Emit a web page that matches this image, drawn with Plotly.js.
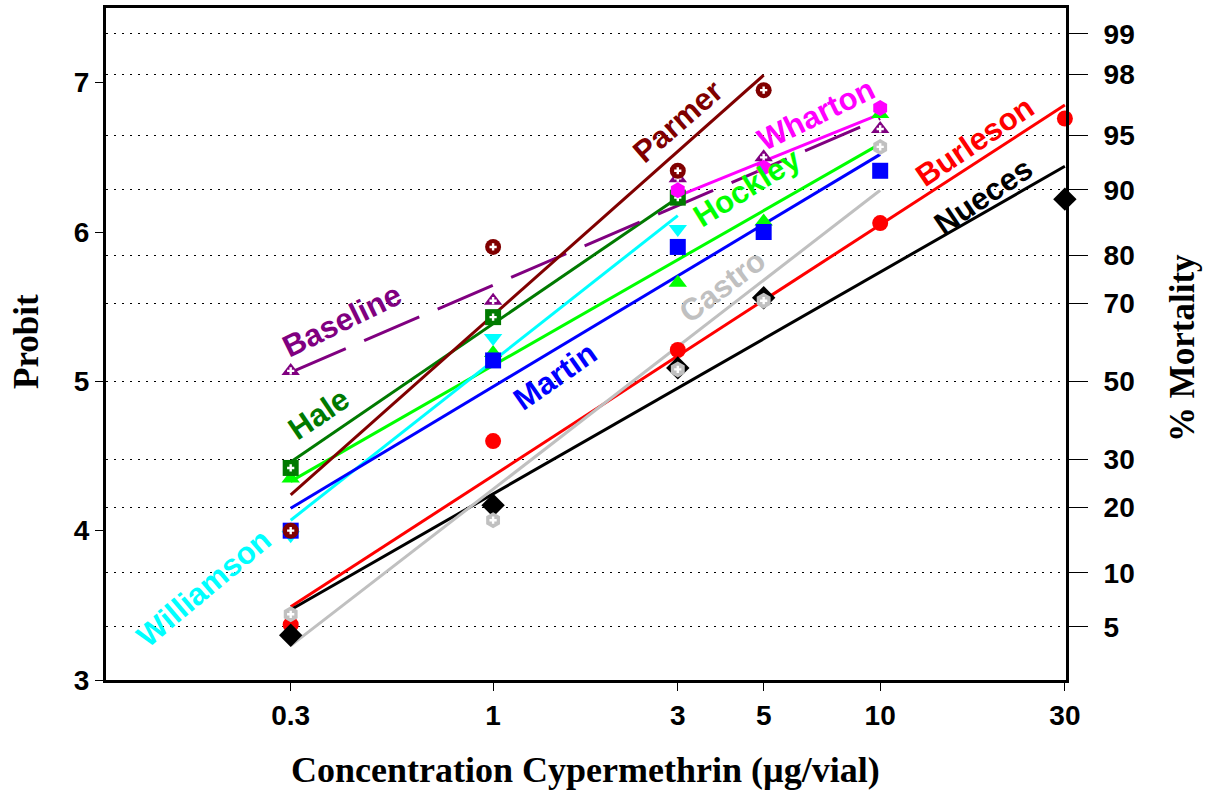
<!DOCTYPE html>
<html>
<head>
<meta charset="utf-8">
<script src="https://cdn.plot.ly/plotly-3.0.1.min.js"></script>
<style>html,body{margin:0;padding:0;background:#fff;}#chart{width:1207px;height:792px;}</style>
</head>
<body>
<div id="chart"></div>
<script>
// ---- Data (probit values) ----
const parmerDose = [0.3, 1, 3, 5];
const parmerObs = [4.00, 5.90, 6.41, 6.95];
const parmerFitDose = [0.3, 5];
const parmerFit = [4.24, 7.05];

const baselineDose = [0.3, 1, 3, 5, 10];
const baselineObs = [5.07, 5.54, 6.36, 6.50, 6.69];
const baselineFitDose = [0.3, 10];
const baselineFit = [5.06, 6.76];

const haleDose = [0.3, 1, 3];
const haleObs = [4.42, 5.43, 6.23];
const haleFitDose = [0.3, 3];
const haleFit = [4.46, 6.23];

const hockleyDose = [0.3, 1, 3, 5, 10];
const hockleyObs = [4.35, 5.19, 5.66, 6.07, 6.79];
const hockleyFitDose = [0.3, 10];
const hockleyFit = [4.33, 6.59];

const martinDose = [0.3, 1, 3, 5, 10];
const martinObs = [4.00, 5.14, 5.90, 6.00, 6.41];
const martinFitDose = [0.3, 10];
const martinFit = [4.15, 6.52];

const williamsonDose = [0.3, 1, 3];
const williamsonObs = [3.97, 5.29, 6.02];
const williamsonFitDose = [0.3, 3];
const williamsonFit = [4.07, 6.11];

const whartonDose = [3, 5, 10];
const whartonObs = [6.28, 6.43, 6.83];
const whartonFitDose = [3, 10];
const whartonFit = [6.24, 6.79];

const castroDose = [0.3, 1, 3, 5, 10];
const castroObs = [3.44, 4.07, 5.08, 5.54, 6.57];
const castroFitDose = [0.3, 10];
const castroFit = [3.23, 6.28];

const burlesonDose = [0.3, 1, 3, 10, 30];
const burlesonObs = [3.37, 4.60, 5.21, 6.06, 6.76];
const burlesonFitDose = [0.3, 30];
const burlesonFit = [3.49, 6.85];

const nuecesDose = [0.3, 1, 3, 5, 30];
const nuecesObs = [3.30, 4.17, 5.09, 5.56, 6.22];
const nuecesFitDose = [0.3, 30];
const nuecesFit = [3.47, 6.44];

// axis ticks
const doseTicks = [0.3, 1, 3, 5, 10, 30];
const doseTickText = ['0.3', '1', '3', '5', '10', '30'];
const probitTicks = [3, 4, 5, 6, 7];
const mortalityLabels = ['5', '10', '20', '30', '50', '70', '80', '90', '95', '98', '99'];
const mortalityProbit = [3.355, 3.718, 4.158, 4.476, 5.0, 5.524, 5.842, 6.282, 6.645, 7.054, 7.326];

// ---- Styles ----
const series = [
  {name:'Hockley', dose:hockleyDose, obs:hockleyObs, fx:hockleyFitDose, fy:hockleyFit, color:'#00FF00', symbol:'triangle-up', plus:false},
  {name:'Williamson', dose:williamsonDose, obs:williamsonObs, fx:williamsonFitDose, fy:williamsonFit, color:'#00FFFF', symbol:'triangle-down', plus:false},
  {name:'Martin', dose:martinDose, obs:martinObs, fx:martinFitDose, fy:martinFit, color:'#0000FF', symbol:'square', plus:false},
  {name:'Hale', dose:haleDose, obs:haleObs, fx:haleFitDose, fy:haleFit, color:'#007A00', symbol:'square', plus:true},
  {name:'Baseline', dose:baselineDose, obs:baselineObs, fx:baselineFitDose, fy:baselineFit, color:'#800080', symbol:'triangle-up', plus:true, dash:'60px,20px'},
  {name:'Wharton', dose:whartonDose, obs:whartonObs, fx:whartonFitDose, fy:whartonFit, color:'#FF00FF', symbol:'hexagon', plus:false},
  {name:'Parmer', dose:parmerDose, obs:parmerObs, fx:parmerFitDose, fy:parmerFit, color:'#800000', symbol:'circle', plus:true},
  {name:'Burleson', dose:burlesonDose, obs:burlesonObs, fx:burlesonFitDose, fy:burlesonFit, color:'#FF0000', symbol:'circle', plus:false},
  {name:'Nueces', dose:nuecesDose, obs:nuecesObs, fx:nuecesFitDose, fy:nuecesFit, color:'#000000', symbol:'diamond', plus:false},
  {name:'Castro', dose:castroDose, obs:castroObs, fx:castroFitDose, fy:castroFit, color:'#C0C0C0', symbol:'hexagon', plus:true}
];

const traces = [];
// invisible trace to activate right axis
traces.push({x:[1], y:[5], yaxis:'y2', mode:'markers', marker:{opacity:0}, hoverinfo:'skip', showlegend:false});
series.forEach(s => {
  traces.push({x:s.fx, y:s.fy, mode:'lines', line:{color:s.color, width:3, dash:s.dash||'solid'}, showlegend:false, hoverinfo:'skip'});
});
series.forEach(s => {
  traces.push({x:s.dose, y:s.obs, mode:'markers', cliponaxis:false,
    marker:{symbol:s.symbol, size:s.symbol==='diamond'?18:16, color:s.color, line:{width:0}}, showlegend:false, name:s.name});
  if (s.plus) {
    traces.push({x:s.dose, y:s.obs, mode:'markers', cliponaxis:false,
      marker:{symbol:'cross', size:6, color:'#FFFFFF', line:{width:0}}, showlegend:false, hoverinfo:'skip'});
  }
});

// label placement in pixels of the page
const L = 106, R = 1066, T = 8, B = 680;
function px(x){ return (x - L) / (R - L); }
function py(y){ return (B - y) / (B - T); }
const labelFont = {family:'Liberation Sans, Arial, sans-serif', size:31, weight:700};
const labels = [
  ['Parmer', 678, 122, -41, '#800000'],
  ['Baseline', 342, 320, -26, '#800080'],
  ['Hale', 318, 414, -34, '#007A00'],
  ['Williamson', 203, 588, -40, '#00FFFF'],
  ['Martin', 555, 377, -35, '#0000FF'],
  ['Castro', 722, 286, -37, '#C0C0C0'],
  ['Hockley', 747, 187, -32, '#00FF00'],
  ['Wharton', 816, 114, -26, '#FF00FF'],
  ['Burleson', 975, 142, -34, '#FF0000'],
  ['Nueces', 983, 196, -34, '#000000']
];
const annotations = labels.map(a => ({
  text:a[0], xref:'paper', yref:'paper', x:px(a[1]), y:py(a[2]), xanchor:'center', yanchor:'middle',
  textangle:a[3], showarrow:false, font:Object.assign({}, labelFont, {color:a[4]})
}));
const titleFont = {family:'Liberation Serif, Times New Roman, serif', weight:700, color:'#000'};
annotations.push({text:'Probit', xref:'paper', yref:'paper', x:px(26), y:py(342), xanchor:'center', yanchor:'middle', textangle:-90, showarrow:false, font:Object.assign({size:35}, titleFont)});
annotations.push({text:'% Mortality', xref:'paper', yref:'paper', x:px(1182), y:py(348), xanchor:'center', yanchor:'middle', textangle:-90, showarrow:false, font:Object.assign({size:35}, titleFont)});
annotations.push({text:'Concentration Cypermethrin (µg/vial)', xref:'paper', yref:'paper', x:px(585), y:py(770), xanchor:'center', yanchor:'middle', showarrow:false, font:Object.assign({size:36}, titleFont)});

const tickFont = {family:'Liberation Sans Narrow, Arial Narrow, Liberation Sans, sans-serif', size:28, weight:700, color:'#000'};
const layout = {
  width:1207, height:792,
  margin:{l:L, r:1207-R, t:T, b:792-B, pad:0},
  paper_bgcolor:'#fff', plot_bgcolor:'rgba(0,0,0,0)',
  showlegend:false,
  xaxis:{type:'log', range:[-1, 1.48], tickvals:doseTicks, ticktext:doseTickText,
    ticks:'outside', ticklen:8, tickwidth:1, tickcolor:'#000',
    showline:true, linewidth:3, linecolor:'#000', mirror:true, showgrid:false, zeroline:false,
    tickfont:tickFont},
  yaxis:{range:[3, 7.5], tickvals:probitTicks, ticks:'outside', ticklen:8, tickwidth:1, tickcolor:'#000',
    showline:true, linewidth:3, linecolor:'#000', showgrid:false, zeroline:false, tickfont:tickFont},
  yaxis2:{range:[3, 7.5], overlaying:'y', side:'right', tickvals:mortalityProbit, ticktext:mortalityLabels,
    ticks:'outside', ticklen:19, tickwidth:1, tickcolor:'#000', ticklabelstandoff:10,
    showline:true, linewidth:3, linecolor:'#000', showgrid:true, griddash:'2px,6px', gridcolor:'#000', gridwidth:1,
    zeroline:false, tickfont:tickFont},
  annotations:annotations
};
Plotly.newPlot('chart', traces, layout, {displayModeBar:false, staticPlot:true});
</script>
</body>
</html>
